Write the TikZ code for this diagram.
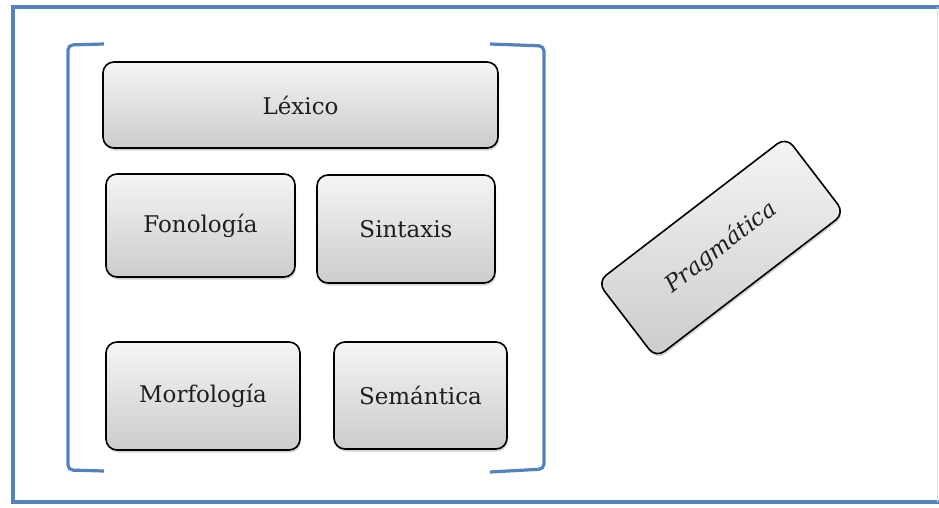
\documentclass[tikz,border=0pt]{standalone}
\usepackage{fontspec}
\setmainfont{DejaVu Serif}
\usetikzlibrary{shadows}

\definecolor{azul}{RGB}{84,130,190}
\definecolor{tinta}{RGB}{30,30,30}

\tikzset{
  caja/.style={draw=black, line width=1.6pt, rounded corners=11pt,
    top color=gray!8, bottom color=gray!40, text=tinta,
    font=\fontsize{23}{26}\selectfont, inner sep=0pt,
    drop shadow={opacity=0.35, shadow xshift=1pt, shadow yshift=-2.5pt}},
  marco/.style={draw=azul, line width=3.2pt},
  corchete/.style={draw=azul, line width=3.2pt, rounded corners=5pt}
}

\begin{document}
\begin{tikzpicture}[x=1pt, y=-1pt]
    \useasboundingbox (0,0) rectangle (939,508);
    % marco exterior (el borde derecho queda fuera)
    \draw [marco] (942,7) -- (13,7) -- (13,502) -- (942,502);
    \draw [azul!25, line width=1pt] (937.5,7) -- (937.5,502);
    % corchetes
    \draw [corchete] (104,44)--(68,45)--(68,470)--(104,471);
    \draw [corchete] (490,44)--(544,46)--(544,469)--(490,472);
    % cajas
    \node [caja, minimum width=395pt, minimum height=86pt] (lexico) at (300.5,105) {Léxico};
    \node [caja, minimum width=189pt, minimum height=103pt] (fonologia) at (200.5,225.5) {Fonología};
    \node [caja, minimum width=178pt, minimum height=108pt] (sintaxis) at (406,229) {Sintaxis};
    \node [caja, minimum width=194pt, minimum height=108pt] (morfologia) at (203,396) {Morfología};
    \node [caja, minimum width=173pt, minimum height=107pt] (semantica) at (420.5,395.5) {Semántica};
    \node [caja, rotate=37.5, minimum width=238pt, minimum height=96pt, font=\fontsize{23}{26}\selectfont\itshape] (pragmatica) at (721,247.5) {Pragmática};
  \end{tikzpicture}
\end{document}
